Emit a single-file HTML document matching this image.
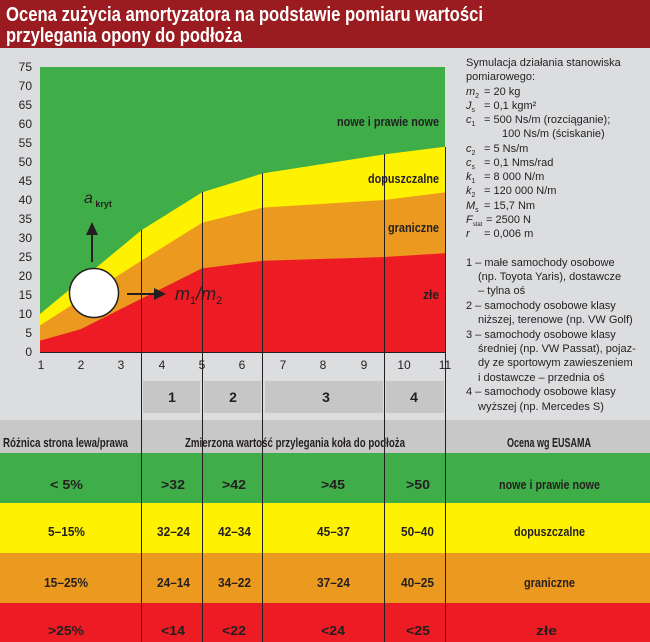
<!DOCTYPE html>
<html><head><meta charset="utf-8"><style>
body{margin:0;background:#dcdddf}
svg{display:block}
text{font-family:"Liberation Sans",sans-serif;fill:#231f20}
.b{font-weight:bold}
.r{font-family:"Liberation Sans",sans-serif;font-size:11px}
</style></head><body>
<svg width="650" height="642" viewBox="0 0 650 642" xmlns="http://www.w3.org/2000/svg">
<rect width="650" height="642" fill="#dcdddf"/>
<rect width="650" height="48" fill="#9a1b20"/>
<text x="6" y="21" class="b" font-size="20" style="fill:#fff" textLength="477" lengthAdjust="spacingAndGlyphs">Ocena zużycia amortyzatora na podstawie pomiaru wartości</text>
<text x="6" y="42" class="b" font-size="20" style="fill:#fff" textLength="236" lengthAdjust="spacingAndGlyphs">przylegania opony do podłoża</text>

<!-- plot -->
<rect x="40" y="67" width="405" height="285" fill="#3fae49"/>
<polygon fill="#fff200" points="40,314 141.25,230.4 202,192.4 262.75,173.4 384.25,154.4 445,146.8 445,352 40,352"/>
<polygon fill="#ec9a1f" points="40,325.4 141.25,260.8 202,222.8 262.75,207.6 384.25,200 445,192.4 445,352 40,352"/>
<polygon fill="#ed1c24" points="40,340.6 80.5,329.2 141.25,298.8 202,268.4 262.75,260.8 384.25,257 445,253.2 445,352 40,352"/>
<line x1="40" y1="352.5" x2="445" y2="352.5" stroke="#231f20" stroke-width="1"/>
<g stroke="#231f20" stroke-width="1">
<line x1="141.5" y1="230" x2="141.5" y2="642"/>
<line x1="202.5" y1="192" x2="202.5" y2="642"/>
<line x1="262.5" y1="173" x2="262.5" y2="642"/>
<line x1="384.5" y1="154" x2="384.5" y2="642"/>
<line x1="445.5" y1="147" x2="445.5" y2="642"/>
</g>
<g font-size="12" text-anchor="end">
<text x="32" y="71">75</text><text x="32" y="90">70</text><text x="32" y="109">65</text><text x="32" y="128">60</text><text x="32" y="147">55</text><text x="32" y="166">50</text><text x="32" y="185">45</text><text x="32" y="204">40</text><text x="32" y="223">35</text><text x="32" y="242">30</text><text x="32" y="261">25</text><text x="32" y="280">20</text><text x="32" y="299">15</text><text x="32" y="318">10</text><text x="32" y="337">5</text><text x="32" y="356">0</text>
</g>
<g font-size="12" text-anchor="middle">
<text x="41" y="369">1</text><text x="81" y="369">2</text><text x="121" y="369">3</text><text x="162" y="369">4</text><text x="202" y="369">5</text><text x="242" y="369">6</text><text x="283" y="369">7</text><text x="323" y="369">8</text><text x="364" y="369">9</text><text x="404" y="369">10</text><text x="445" y="369">11</text>
</g>
<g fill="#c6c6c6">
<rect x="143" y="381" width="57" height="32"/><rect x="204" y="381" width="57" height="32"/><rect x="265" y="381" width="118" height="32"/><rect x="386" y="381" width="58" height="32"/>
</g>
<g font-size="14" class="b" text-anchor="middle">
<text x="172" y="402">1</text><text x="233" y="402">2</text><text x="326" y="402">3</text><text x="414" y="402">4</text>
</g>
<g class="b" font-size="13" lengthAdjust="spacingAndGlyphs">
<text x="337" y="126" textLength="102" lengthAdjust="spacingAndGlyphs">nowe i prawie nowe</text>
<text x="368" y="183" textLength="71" lengthAdjust="spacingAndGlyphs">dopuszczalne</text>
<text x="388" y="232" textLength="51" lengthAdjust="spacingAndGlyphs">graniczne</text>
<text x="423" y="299" textLength="16" lengthAdjust="spacingAndGlyphs">złe</text>
</g>
<circle cx="94" cy="293" r="24.5" fill="#fff" stroke="#231f20" stroke-width="1.5"/>
<line x1="92" y1="262" x2="92" y2="234" stroke="#231f20" stroke-width="2"/>
<polygon points="86,235 98,235 92,222" fill="#231f20"/>
<line x1="127" y1="294" x2="156" y2="294" stroke="#231f20" stroke-width="2"/>
<polygon points="154,288 154,300 166,294" fill="#231f20"/>
<text x="175" y="300" font-size="18" font-style="italic">m<tspan font-size="11" dy="4" font-style="normal">1</tspan><tspan dy="-4">/m</tspan><tspan font-size="11" dy="4" font-style="normal">2</tspan></text>
<text x="84" y="203" font-size="16" font-style="italic">a<tspan font-size="9" dy="4" font-style="normal" class="b"> kryt</tspan></text>

<!-- right text -->
<g class="r">
<text x="466" y="66">Symulacja działania stanowiska</text>
<text x="466" y="80">pomiarowego:</text>
<text x="466" y="95"><tspan font-style="italic">m</tspan><tspan font-size="7" dy="3">2</tspan><tspan x="484" dy="-3">=  20 kg</tspan></text>
<text x="466" y="109"><tspan font-style="italic">J</tspan><tspan font-size="7" dy="3">s</tspan><tspan x="484" dy="-3">=  0,1 kgm²</tspan></text>
<text x="466" y="123"><tspan font-style="italic">c</tspan><tspan font-size="7" dy="3">1</tspan><tspan x="484" dy="-3">=  500 Ns/m (rozciąganie);</tspan></text>
<text x="502" y="137">100 Ns/m (ściskanie)</text>
<text x="466" y="152"><tspan font-style="italic">c</tspan><tspan font-size="7" dy="3">2</tspan><tspan x="484" dy="-3">=  5 Ns/m</tspan></text>
<text x="466" y="166"><tspan font-style="italic">c</tspan><tspan font-size="7" dy="3">s</tspan><tspan x="484" dy="-3">=  0,1 Nms/rad</tspan></text>
<text x="466" y="180"><tspan font-style="italic">k</tspan><tspan font-size="7" dy="3">1</tspan><tspan x="484" dy="-3">=  8 000 N/m</tspan></text>
<text x="466" y="194"><tspan font-style="italic">k</tspan><tspan font-size="7" dy="3">2</tspan><tspan x="484" dy="-3">=  120 000 N/m</tspan></text>
<text x="466" y="209"><tspan font-style="italic">M</tspan><tspan font-size="7" dy="3">s</tspan><tspan x="484" dy="-3">=  15,7 Nm</tspan></text>
<text x="466" y="223"><tspan font-style="italic">F</tspan><tspan font-size="6" dy="3">stat</tspan><tspan x="486" dy="-3">=  2500 N</tspan></text>
<text x="466" y="237"><tspan font-style="italic">r</tspan><tspan x="484">=  0,006 m</tspan></text>
<text x="466" y="266">1 – małe samochody osobowe</text>
<text x="478" y="280">(np. Toyota Yaris), dostawcze</text>
<text x="478" y="294">– tylna oś</text>
<text x="466" y="309">2 – samochody osobowe klasy</text>
<text x="478" y="323">niższej, terenowe (np. VW Golf)</text>
<text x="466" y="338">3 – samochody osobowe klasy</text>
<text x="478" y="352">średniej (np. VW Passat), pojaz-</text>
<text x="478" y="366">dy ze sportowym zawieszeniem</text>
<text x="478" y="381">i dostawcze – przednia oś</text>
<text x="466" y="395">4 – samochody osobowe klasy</text>
<text x="478" y="410">wyższej (np. Mercedes S)</text>
</g>

<!-- table -->
<rect x="0" y="420" width="650" height="33" fill="#c8c8c9"/>
<rect x="0" y="453" width="650" height="50" fill="#3fae49"/>
<rect x="0" y="503" width="650" height="50" fill="#fff200"/>
<rect x="0" y="553" width="650" height="50" fill="#ec9a1f"/>
<rect x="0" y="603" width="650" height="39" fill="#ed1c24"/>
<g stroke="#231f20" stroke-width="1">
<line x1="141.5" y1="420" x2="141.5" y2="642"/><line x1="202.5" y1="420" x2="202.5" y2="642"/><line x1="262.5" y1="420" x2="262.5" y2="642"/><line x1="384.5" y1="420" x2="384.5" y2="642"/><line x1="445.5" y1="420" x2="445.5" y2="642"/>
</g>
<g class="b" font-size="13">
<text x="3" y="447" textLength="125" lengthAdjust="spacingAndGlyphs">Różnica strona lewa/prawa</text>
<text x="185" y="447" textLength="220" lengthAdjust="spacingAndGlyphs">Zmierzona wartość przylegania koła do podłoża</text>
<text x="507" y="447" textLength="84" lengthAdjust="spacingAndGlyphs">Ocena wg EUSAMA</text>

<text x="50" y="489" textLength="33" lengthAdjust="spacingAndGlyphs">&lt; 5%</text>
<text x="161" y="489" textLength="24" lengthAdjust="spacingAndGlyphs">&gt;32</text>
<text x="222" y="489" textLength="24" lengthAdjust="spacingAndGlyphs">&gt;42</text>
<text x="321" y="489" textLength="24" lengthAdjust="spacingAndGlyphs">&gt;45</text>
<text x="406" y="489" textLength="24" lengthAdjust="spacingAndGlyphs">&gt;50</text>
<text x="499" y="489" textLength="101" lengthAdjust="spacingAndGlyphs">nowe i prawie nowe</text>

<text x="48" y="536" textLength="37" lengthAdjust="spacingAndGlyphs">5–15%</text>
<text x="157" y="536" textLength="33" lengthAdjust="spacingAndGlyphs">32–24</text>
<text x="218" y="536" textLength="33" lengthAdjust="spacingAndGlyphs">42–34</text>
<text x="317" y="536" textLength="33" lengthAdjust="spacingAndGlyphs">45–37</text>
<text x="401" y="536" textLength="33" lengthAdjust="spacingAndGlyphs">50–40</text>
<text x="514" y="536" textLength="71" lengthAdjust="spacingAndGlyphs">dopuszczalne</text>

<text x="44" y="587" textLength="44" lengthAdjust="spacingAndGlyphs">15–25%</text>
<text x="157" y="587" textLength="33" lengthAdjust="spacingAndGlyphs">24–14</text>
<text x="218" y="587" textLength="33" lengthAdjust="spacingAndGlyphs">34–22</text>
<text x="317" y="587" textLength="33" lengthAdjust="spacingAndGlyphs">37–24</text>
<text x="401" y="587" textLength="33" lengthAdjust="spacingAndGlyphs">40–25</text>
<text x="524" y="587" textLength="51" lengthAdjust="spacingAndGlyphs">graniczne</text>

<text x="48" y="635" textLength="36" lengthAdjust="spacingAndGlyphs">&gt;25%</text>
<text x="161" y="635" textLength="24" lengthAdjust="spacingAndGlyphs">&lt;14</text>
<text x="222" y="635" textLength="24" lengthAdjust="spacingAndGlyphs">&lt;22</text>
<text x="321" y="635" textLength="24" lengthAdjust="spacingAndGlyphs">&lt;24</text>
<text x="406" y="635" textLength="24" lengthAdjust="spacingAndGlyphs">&lt;25</text>
<text x="536" y="635" textLength="21" lengthAdjust="spacingAndGlyphs">złe</text>
</g>
</svg>
</body></html>
